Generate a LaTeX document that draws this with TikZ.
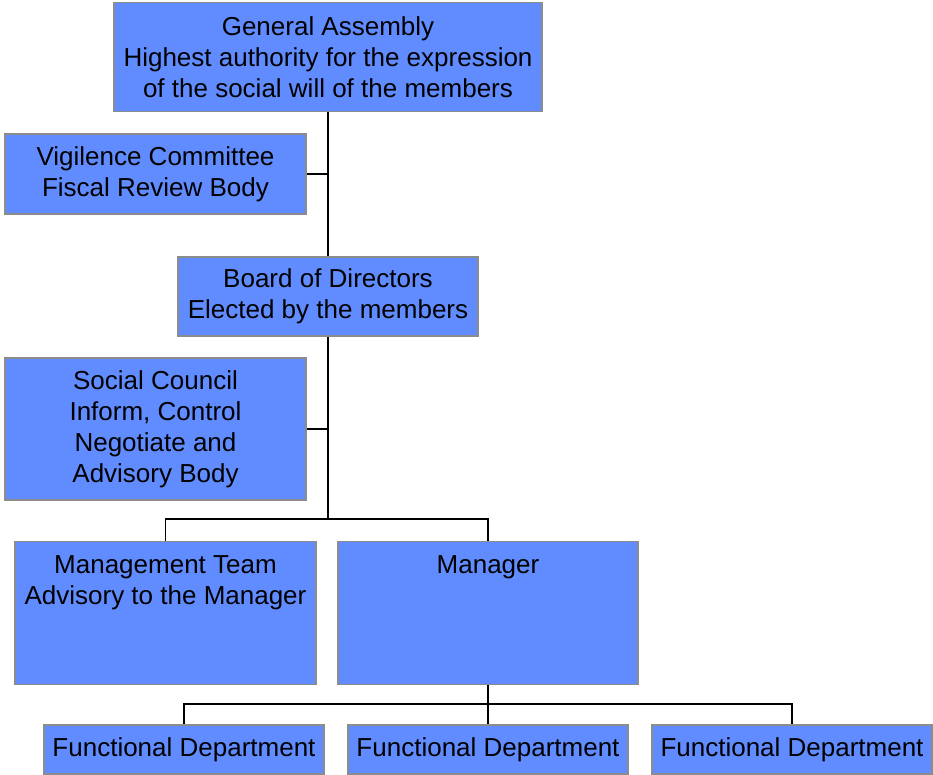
\documentclass[tikz,border=0pt]{standalone}
\usepackage{fontspec}
\setmainfont{Liberation Sans}
\definecolor{boxfill}{HTML}{608CFF}
\definecolor{boxline}{HTML}{8C8C8C}
\begin{document}
\begin{tikzpicture}[x=1pt,y=-1pt,
  box/.style={draw=boxline, line width=1.8pt, fill=boxfill, inner sep=0pt, align=center,
    font=\fontsize{26}{31}\selectfont},
  txt/.style={inner sep=0pt, align=center, font=\fontsize{26}{31}\selectfont},
  conn/.style={draw=black, line width=1.3pt}]
\useasboundingbox (0,0) rectangle (933,774);
\node[box, minimum width=428pt, minimum height=109pt] (ga) at (328,57)
  {General Assembly\\Highest authority for the expression\\of the social will of the members};
\node[box, minimum width=301pt, minimum height=80pt] (vc) at (155.5,174)
  {Vigilence Committee\\Fiscal Review Body};
\node[box, minimum width=300pt, minimum height=79pt] (bod) at (328,296.5)
  {Board of Directors\\Elected by the members};
\node[box, minimum width=301pt, minimum height=142pt] (sc) at (155.5,429)
  {Social Council\\Inform, Control\\Negotiate and\\Advisory Body};
\node[box, minimum width=301pt, minimum height=143pt] (mt) at (165.5,613) {};
\node[txt] (mtt) at (165.5,583) {Management Team\\Advisory to the Manager};
\node[box, minimum width=300pt, minimum height=143pt] (mgr) at (488,613) {};
\node[txt] (mgrt) at (488,567) {Manager};
\node[box, minimum width=280pt, minimum height=49pt] (fd1) at (184,749.5) {Functional Department};
\node[box, minimum width=280pt, minimum height=49pt] (fd2) at (488,749.5) {Functional Department};
\node[box, minimum width=280pt, minimum height=49pt] (fd3) at (792,749.5) {Functional Department};
% connectors
\draw[conn] (ga.south) -- (bod.north);
\draw[conn] (vc.east) -- (vc.east -| ga.south);
\coordinate (j1) at (328,519);
\draw[conn] (bod.south) -- (j1);
\draw[conn] (sc.east) -- (sc.east -| bod.south);
\draw[conn] (mt.north -| mtt) -- (j1 -| mtt) -- (j1 -| mgr) -- (mgr.north);
\coordinate (j2) at (488,704);
\draw[conn] (mgr.south) -- (j2);
\draw[conn] (fd1.north) -- (j2 -| fd1) -- (j2 -| fd3) -- (fd3.north);
\draw[conn] (j2) -- (fd2.north);
\end{tikzpicture}
\end{document}
